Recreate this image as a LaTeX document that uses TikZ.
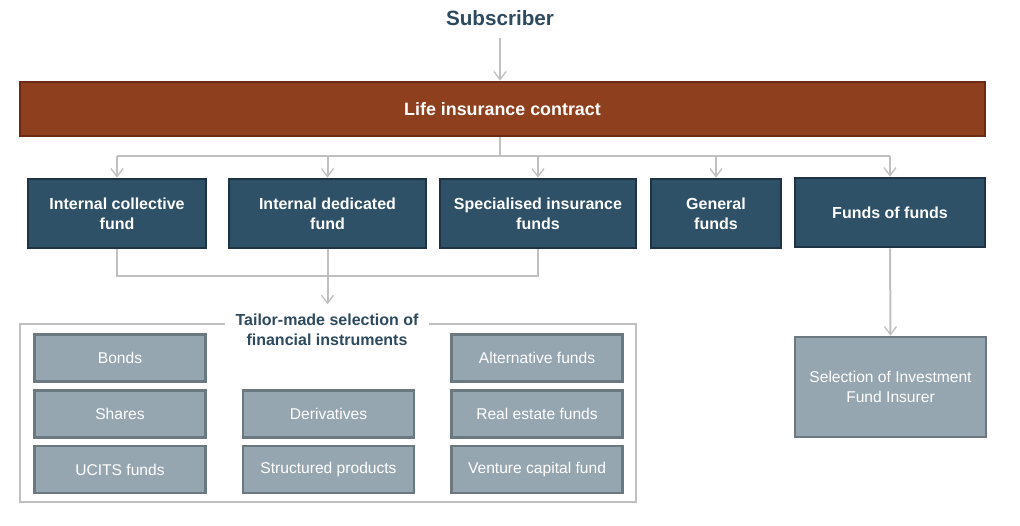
\documentclass[tikz,border=0pt]{standalone}
\usepackage{fontspec}
\setmainfont{Liberation Sans}
\usetikzlibrary{positioning,arrows.meta}
\definecolor{brick}{HTML}{8E401E}
\definecolor{brickdark}{HTML}{6B2A14}
\definecolor{slate}{HTML}{2F5168}
\definecolor{slatedark}{HTML}{1E3343}
\definecolor{steel}{HTML}{96A6B0}
\definecolor{steeldark}{HTML}{6C7880}
\definecolor{wire}{HTML}{C0C0C0}
\definecolor{heading}{HTML}{2E4A5E}

\begin{document}
\begin{tikzpicture}[x=0.75pt, y=-0.75pt, font=\fontsize{11.7}{15}\selectfont,
    ln/.style={draw=wire, line width=1.5pt},
    arr/.style={ln, -{Straight Barb[length=6pt, width=9pt, line width=1pt]}},
    fund/.style={draw=slatedark, fill=slate, line width=2pt, text=white, font=\fontsize{12}{15}\selectfont\bfseries,
                 align=center, minimum height=51.75pt},
    asset/.style={draw=steeldark, fill=steel, line width=2pt, text=white, align=center,
                  minimum width=128.25pt, minimum height=35.25pt}]
    \useasboundingbox (0,0) rectangle (1020,525);

    \node[text=heading, font=\fontsize{15.5}{18}\selectfont\bfseries] (sub) at (500,18) {Subscriber};
    \node[draw=brickdark, fill=brick, line width=2pt, text=white, font=\fontsize{13.4}{16}\selectfont\bfseries,
          minimum width=723.75pt, minimum height=40.5pt] (life) at (502.5,109) {Life insurance contract};

    \node[fund, minimum width=133.5pt]  (f1) at (117,213.5)   {Internal collective\\fund};
    \node[fund, minimum width=147.75pt] (f2) at (327.5,213.5) {Internal dedicated\\fund};
    \node[fund, minimum width=147pt]    (f3) at (538,213.5)   {Specialised insurance\\funds};
    \node[fund, minimum width=97.5pt]   (f4) at (716,213.5)   {General\\funds};
    \node[fund, minimum width=142.5pt]  (f5) at (890,212.5)   {Funds of funds};

    % tailor-made selection
    \draw[draw=wire, line width=1.5pt] (19.5,324) rectangle (636,502);
    \node[fill=white, text=heading, font=\fontsize{12}{15}\selectfont\bfseries, align=center, inner xsep=8pt, inner ysep=1pt]
          (tm) at (327,330) {Tailor-made selection of\\financial instruments};

    \node[asset] (bonds) at (120,358)   {Bonds};
    \node[asset] (alt)   at (537,358)   {Alternative funds};
    \node[asset] (shares) at (120,414)  {Shares};
    \node[asset] (deriv) at (328.5,414) {Derivatives};
    \node[asset] (real)  at (537,414)   {Real estate funds};
    \node[asset] (ucits) at (120,469.5) {UCITS funds};
    \node[asset] (struc) at (328.5,469.5) {Structured products};
    \node[asset] (vc)    at (537,469.5) {Venture capital fund};

    \node[draw=steeldark, fill=steel, line width=2pt, text=white, align=center,
          minimum width=143.25pt, minimum height=75pt] (sel) at (890.5,387) {Selection of Investment\\Fund Insurer};

    % connectors
    \coordinate (j1) at (500,156);
    \coordinate (j2) at (327,276);
    \draw[arr] (sub.south) ++(0,8) -- (sub.south |- life.north);
    \draw[ln] (life.south -| j1) -- (j1);
    \draw[ln] (j1 -| f1) -- (j1 -| f5);
    \foreach \n in {f1,f2,f3,f4,f5}
      \draw[arr] (j1 -| \n.north) -- (\n.north);
    \draw[ln] (f1.south) -- (f1.south |- j2) -- (f3.south |- j2) -- (f3.south);
    \draw[arr] (f2.south) -- ++(0,55);
    \draw[arr] (f5.south) -- (sel.north);
\end{tikzpicture}
\end{document}
